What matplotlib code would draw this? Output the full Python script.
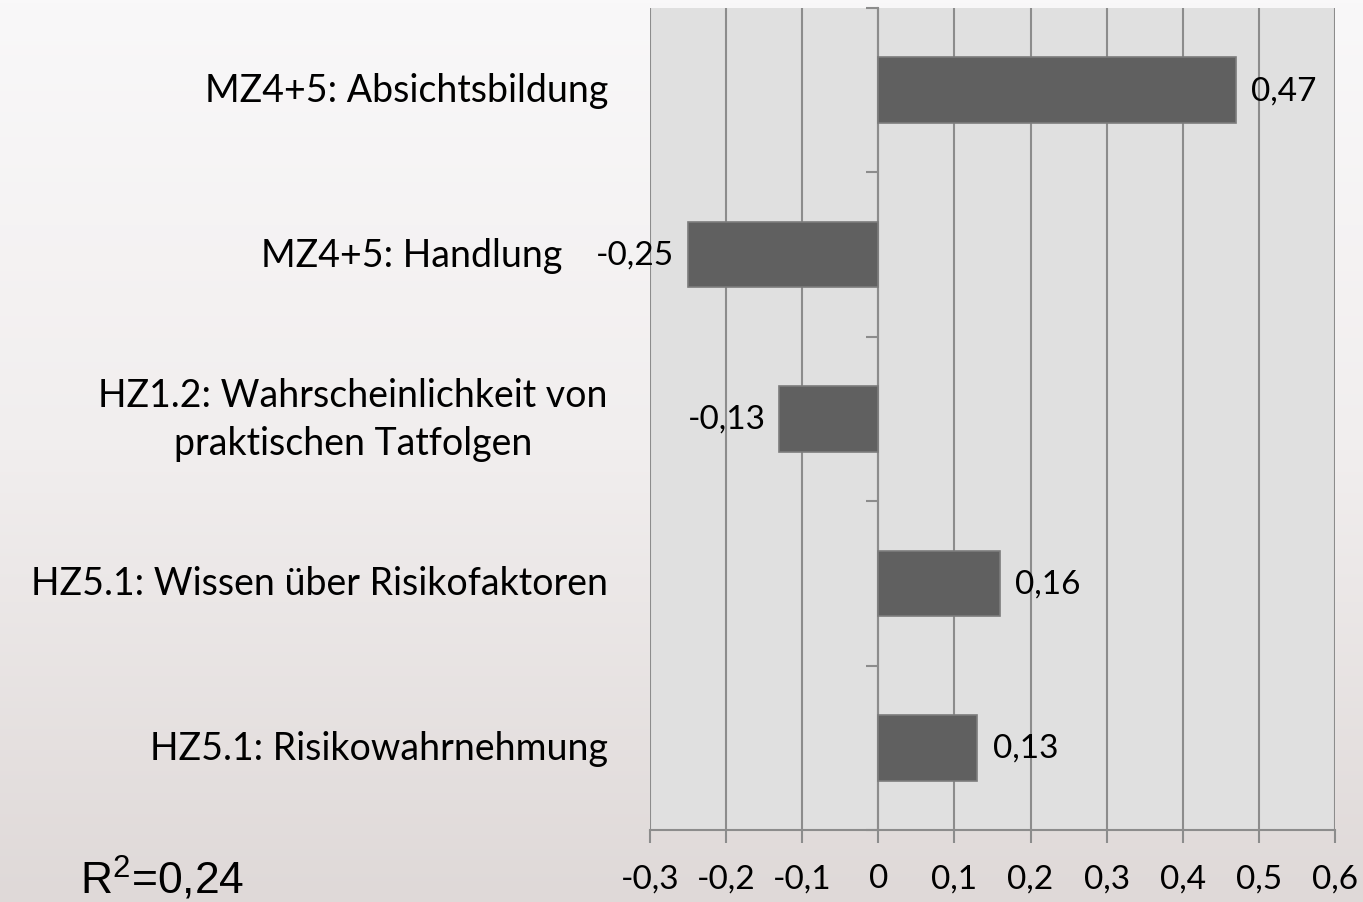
import numpy as np
import matplotlib
matplotlib.use("Agg")
from matplotlib import pyplot as plt
from matplotlib.colors import LinearSegmentedColormap
from matplotlib.transforms import blended_transform_factory

categories = [
    "MZ4+5: Absichtsbildung",
    "MZ4+5: Handlung",
    "HZ1.2: Wahrscheinlichkeit von\npraktischen Tatfolgen",
    "HZ5.1: Wissen über Risikofaktoren",
    "HZ5.1: Risikowahrnehmung",
]
values = [0.47, -0.25, -0.13, 0.16, 0.13]
value_labels = ["0,47", "-0,25", "-0,13", "0,16", "0,13"]
x_ticks = [-0.3, -0.2, -0.1, 0, 0.1, 0.2, 0.3, 0.4, 0.5, 0.6]
x_tick_labels = ["-0,3", "-0,2", "-0,1", "0", "0,1", "0,2", "0,3", "0,4", "0,5", "0,6"]
r2_text = "R$^{2}$=0,24"

FONT = "Lato"
GRID = "#8c8c8c"

plt.rcParams["mathtext.default"] = "regular"
plt.rcParams["mathtext.fontset"] = "custom"
plt.rcParams["mathtext.rm"] = "Liberation Sans"

fig = plt.figure(figsize=(13.63, 9.03), dpi=100)

# background gradient
bg = fig.add_axes([0, 0, 1, 1], zorder=-10)
cmap = LinearSegmentedColormap.from_list("bg", ["#f9f8f9", "#f1eeee", "#dfd9d8"])
bg.imshow(np.linspace(0, 1, 256).reshape(-1, 1), aspect="auto", cmap=cmap,
          extent=[0, 1, 0, 1])
bg.set_axis_off()

ax = fig.add_axes([650 / 1363, 1 - 831 / 903, 685 / 1363, 822 / 903])
ax.set_facecolor("#e0e0e0")
ypos = np.arange(len(categories))
ax.barh(ypos, values, height=0.4, color="#606060", edgecolor="#7c7c7c",
        linewidth=1.2, zorder=3)
ax.set_xlim(-0.3, 0.6)
ax.set_ylim(len(categories) - 0.5, -0.5)

ax.set_xticks(x_ticks)
ax.set_xticklabels(x_tick_labels, fontfamily=FONT, fontsize=24)
ax.tick_params(axis="x", length=9, width=1.5, color=GRID, pad=15)
ax.grid(axis="x", color=GRID, linewidth=1.5, zorder=1)
ax.set_axisbelow(True)

for s in ["top", "right"]:
    ax.spines[s].set_visible(False)
ax.spines["bottom"].set_color(GRID)
ax.spines["bottom"].set_linewidth(1.5)
ax.spines["left"].set_position(("data", 0))
ax.spines["left"].set_color(GRID)
ax.spines["left"].set_linewidth(1.5)
ax.set_yticks(np.arange(-0.5, len(categories), 1.0))
ax.set_yticklabels([])
ax.tick_params(axis="y", length=9, width=1.5, color=GRID)

# value labels
for y, v, lab in zip(ypos, values, value_labels):
    if v >= 0:
        ax.annotate(lab, (v, y), xytext=(11, 0), textcoords="offset points",
                    ha="left", va="center", fontfamily=FONT, fontsize=24, zorder=4)
    else:
        ax.annotate(lab, (v, y), xytext=(-10, 0), textcoords="offset points",
                    ha="right", va="center", fontfamily=FONT, fontsize=24, zorder=4)

# category labels
trans = blended_transform_factory(fig.transFigure, ax.transData)
shift = {1: 46}
for y, cat in zip(ypos, categories):
    xr = (608 - shift.get(y, 0)) / 1363
    ax.text(xr, y, cat, transform=trans, ha="right", va="center",
            multialignment="center", fontfamily=FONT, fontsize=27,
            linespacing=1.4, clip_on=False)

fig.text(80 / 1363, 1 - 894 / 903, r2_text, fontfamily="Liberation Sans",
         fontsize=32, ha="left", va="baseline")

fig.savefig("out.png", dpi=100)
